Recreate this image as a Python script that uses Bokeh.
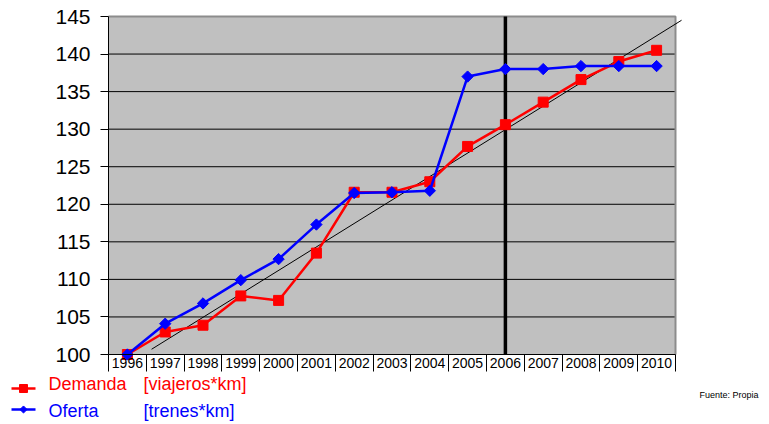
import math
from bokeh.plotting import figure
from bokeh.models import Range1d, LinearAxis, FixedTicker, NumeralTickFormatter, CustomJSTickFormatter
from bokeh.core.properties import value
from bokeh.embed import file_html
from bokeh.resources import INLINE

# ---- data ----
years = list(range(1996, 2011))
demanda = [100.0, 103.0, 103.9, 107.8, 107.2, 113.5, 121.6, 121.6, 123.0, 127.7, 130.6, 133.6, 136.6, 139.0, 140.5]
oferta = [100.0, 104.1, 106.8, 109.9, 112.7, 117.3, 121.5, 121.6, 121.8, 137.0, 138.0, 138.0, 138.4, 138.4, 138.4]
y_ticks = [100, 105, 110, 115, 120, 125, 130, 135, 140, 145]
trend_x = [1996.64, 2010.66]
trend_y = [100.7, 144.5]
marker_year = 2006
serie_demanda = ["Demanda", "[viajeros*km]"]
serie_oferta = ["Oferta", "[trenes*km]"]
fuente = "Fuente: Propia"

FONT = "Liberation Sans"
RED = "#FF0000"
BLUE = "#0000FF"

W, H = 769, 424
PX_X = 37.8          # px per year
PX_Y = 338 / 45.0    # px per unit
X0 = years[0] - 0.5
X1 = years[-1] + 0.5
LEFT_PX = 108        # canvas left edge to plot area left edge
TOP_PX = 16
BOTTOM_PX = H - 354

x_range = Range1d(X0 - LEFT_PX / PX_X, X0 + (W - LEFT_PX) / PX_X)
y_range = Range1d(100 - BOTTOM_PX / PX_Y, 145 + TOP_PX / PX_Y)

p = figure(width=W, height=H, x_range=x_range, y_range=y_range,
           x_axis_type=None, y_axis_type=None,
           output_backend="svg", toolbar_location=None,
           min_border=0, min_border_left=0, min_border_right=0,
           min_border_top=0, min_border_bottom=0,
           outline_line_color=None, background_fill_color="white",
           border_fill_color="white")

# plot area
p.quad(left=[X0], right=[X1], bottom=[100], top=[145],
       fill_color="#C0C0C0", line_color=None)

grid_vals = y_ticks[1:-1]
p.segment(x0=[X0] * len(grid_vals), x1=[X1] * len(grid_vals),
          y0=grid_vals, y1=grid_vals, line_color="black", line_width=1)

p.line([X0, X1, X1], [145, 145, 100], line_color="#8C8C8C", line_width=2)

# y axis
yax = LinearAxis(fixed_location=X0, bounds=(100, 145),
                 ticker=FixedTicker(ticks=y_ticks),
                 major_tick_out=8, major_tick_in=0,
                 minor_tick_out=0, minor_tick_in=0,
                 axis_line_color="black", major_tick_line_color="black",
                 major_label_text_font=FONT, major_label_text_font_size="21px",
                 major_label_text_color="black", major_label_standoff=10)
p.add_layout(yax, "left")

# x axis: category separators
xsep = LinearAxis(fixed_location=100, bounds=(X0, X1),
                  ticker=FixedTicker(ticks=[y - 0.5 for y in years] + [X1]),
                  major_tick_out=17, major_tick_in=0,
                  minor_tick_out=0, minor_tick_in=0,
                  axis_line_color="black", major_tick_line_color="black",
                  formatter=CustomJSTickFormatter(code="return ''"),
                  major_label_text_font_size="1px")
p.add_layout(xsep, "below")

# x axis: year labels
xlab = LinearAxis(fixed_location=100, bounds=(X0, X1),
                  ticker=FixedTicker(ticks=years),
                  major_tick_out=0, major_tick_in=0,
                  minor_tick_out=0, minor_tick_in=0,
                  axis_line_color=None, major_tick_line_color=None,
                  formatter=NumeralTickFormatter(format="0"),
                  major_label_text_font=FONT, major_label_text_font_size="14px",
                  major_label_text_color="black", major_label_standoff=3)
p.add_layout(xlab, "below")

# vertical marker & trend
p.line([marker_year, marker_year], [100, 145], line_color="black", line_width=3.5)
p.line(trend_x, trend_y, line_color="black", line_width=1)

# series
p.line(years, demanda, line_color=RED, line_width=2.5)
p.scatter(years, demanda, marker="square", size=10, fill_color=RED, line_color=RED)
p.line(years, oferta, line_color=BLUE, line_width=2.5)
p.scatter(years, oferta, marker="square", size=8, angle=math.pi / 4,
          fill_color=BLUE, line_color=BLUE)

# legend (drawn in data space below the plot area)
def px_x(px):
    return X0 + (px - LEFT_PX) / PX_X

def px_y(py):
    return 100 - (py - 354) / PX_Y

def legend_row(py, ty, color, marker, msize, angle, labels):
    yy = px_y(py)
    p.line([px_x(11), px_x(35)], [yy, yy], line_color=color, line_width=2.5)
    p.scatter([px_x(23)], [yy], marker=marker, size=msize, angle=angle,
              fill_color=color, line_color=color)
    p.text(x=[px_x(48), px_x(143)], y=[px_y(ty)] * 2, text=labels,
           text_font=value(FONT), text_font_size="18px", text_color=color,
           text_baseline="middle", text_align="left")

legend_row(388, 383, RED, "square", 8, 0, serie_demanda)
legend_row(409, 410, BLUE, "square", 5, math.pi / 4, serie_oferta)

p.text(x=[px_x(699)], y=[px_y(394)], text=[fuente],
       text_font=value(FONT), text_font_size="9px", text_color="black",
       text_baseline="middle", text_align="left")

open("out.html", "w").write(file_html(p, INLINE))
